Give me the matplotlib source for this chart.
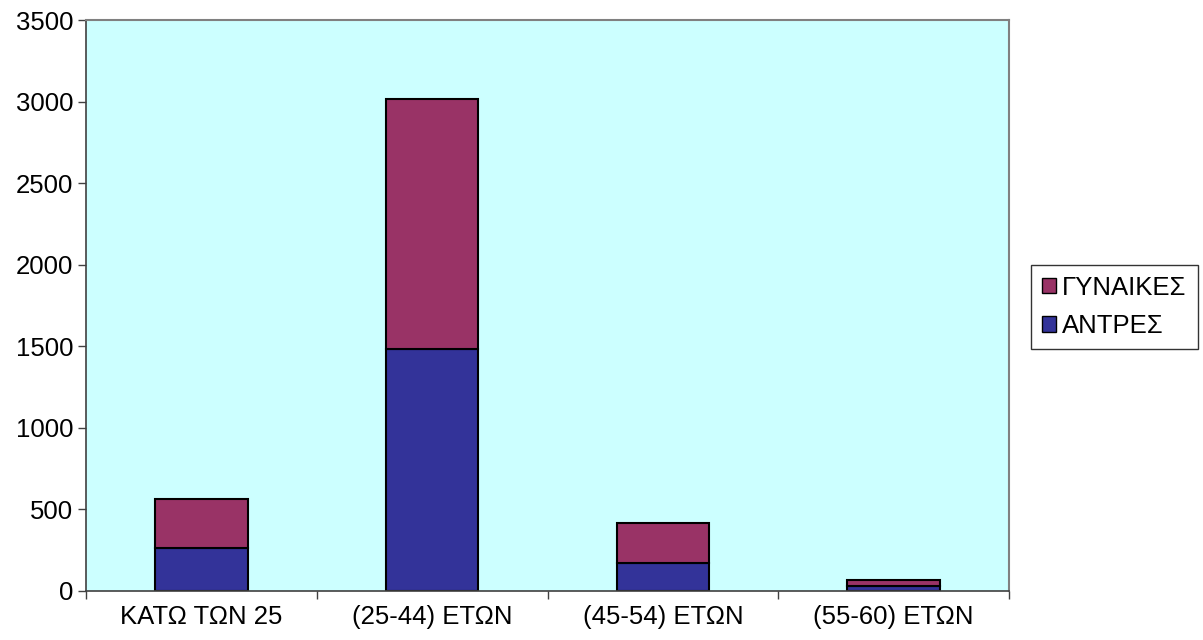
import matplotlib
matplotlib.use("Agg")
import matplotlib.pyplot as plt
from matplotlib.patches import Patch
import numpy as np

plt.rcParams['font.family'] = ['Liberation Sans', 'DejaVu Sans']

categories = ["ΚΑΤΩ ΤΩΝ 25", "(25-44) ΕΤΩΝ", "(45-54) ΕΤΩΝ", "(55-60) ΕΤΩΝ"]
men = [265, 1483, 172, 30]
women = [300, 1530, 245, 40]
series_names = ["ΑΝΤΡΕΣ", "ΓΥΝΑΙΚΕΣ"]
yticks = [0, 500, 1000, 1500, 2000, 2500, 3000, 3500]

c_men = "#333399"
c_women = "#993366"
fs = 18.5

fig = plt.figure(figsize=(12.03, 6.4), dpi=100)
ax = fig.add_axes([86/1203, 49/640, (1009-86)/1203, (591-20)/640])
ax.set_facecolor("#CCFFFF")

x = np.arange(len(categories))
w = 0.40
ax.bar(x, men, w, color=c_men, edgecolor="black", linewidth=1.5, label=series_names[0])
ax.bar(x, women, w, bottom=men, color=c_women, edgecolor="black", linewidth=1.5, label=series_names[1])

ax.set_xlim(-0.5, len(categories) - 0.5)
ax.set_ylim(0, 3500)
ax.set_yticks(yticks)
ax.set_yticklabels([str(v) for v in yticks], fontsize=fs)
ax.set_xticks(x)
ax.set_xticklabels(categories, fontsize=fs)
ax.tick_params(axis='x', length=0, pad=10)
ax.set_xticks(np.arange(-0.5, len(categories)), minor=True)
ax.tick_params(axis='x', which='minor', length=6, width=1, color="#404040", direction='out')
ax.tick_params(axis='y', length=6, width=1, color="#404040", direction='out', pad=3)

for s in ['left', 'bottom']:
    ax.spines[s].set_color("#404040")
    ax.spines[s].set_linewidth(1.2)
for s in ['top', 'right']:
    ax.spines[s].set_color("#808080")
    ax.spines[s].set_linewidth(1.5)

handles = [Patch(facecolor=c_women, edgecolor="black", label=series_names[1]),
           Patch(facecolor=c_men, edgecolor="black", label=series_names[0])]
leg = fig.legend(handles=handles, loc='center left', bbox_to_anchor=(1031/1203, 1 - 307/640),
                 fontsize=fs, frameon=True, fancybox=False, edgecolor="black",
                 handlelength=0.55, handleheight=0.55, handletextpad=0.25, borderpad=0.42,
                 labelspacing=0.57, borderaxespad=0)
leg.get_frame().set_linewidth(1.0)

fig.savefig("out.png", dpi=100)
